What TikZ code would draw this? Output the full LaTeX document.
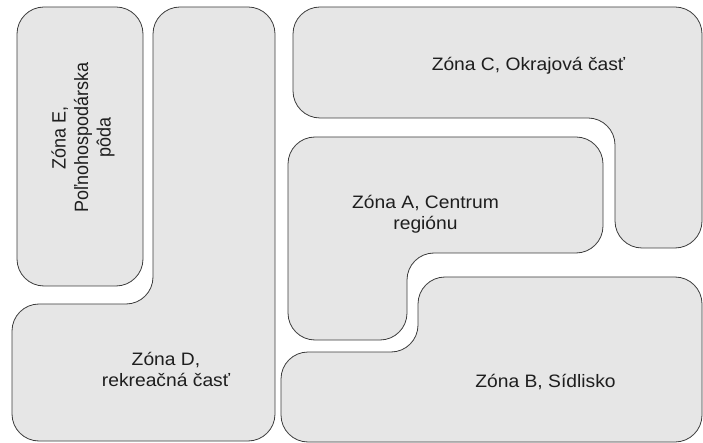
\documentclass[tikz,border=0pt]{standalone}
\usepackage{fontspec}
\setmainfont{Liberation Sans}
\definecolor{zonefill}{HTML}{E6E6E6}
\definecolor{zoneline}{HTML}{3C3C3C}
\definecolor{zoneink}{HTML}{1E1E1E}
\tikzset{
  zone/.style={draw=zoneline, fill=zonefill, line width=0.8bp, rounded corners=27bp},
  zonetext/.style={font=\fontsize{18bp}{21bp}\selectfont, text=zoneink, align=center, inner sep=0pt, xscale=1.07}
}
\begin{document}
\begin{tikzpicture}[x=1bp, y=-1bp]
  \useasboundingbox (0,0) rectangle (703,443);

  % Zone E: agricultural land (upper left)
  \draw[zone] (17,7) rectangle (143,286);
  % Zone D: recreational part (L-shape)
  \draw[zone] (153,7) -- (275,7) -- (275,441) -- (12,441) -- (12,304) -- (153,304) -- cycle;
  % Zone C: outer part (top, folding down on the right)
  \draw[zone] (293,7) -- (702,7) -- (702,248) -- (615,248) -- (615,118) -- (293,118) -- cycle;
  % Zone A: centre of the region
  \draw[zone] (288,137) -- (603,137) -- (603,253) -- (407,253) -- (407,340) -- (288,340) -- cycle;
  % Zone B: housing estate
  \draw[zone] (418,277) -- (702,277) -- (702,442) -- (281,442) -- (281,352) -- (418,352) -- cycle;

  % Zone labels
  \node[zonetext, anchor=base] (tC) at (528.5,71) {Zóna C, Okrajová časť};
  \node[zonetext] (tA) at (425.5,214) {Zóna A, Centrum\\regiónu};
  \node[zonetext, anchor=base] (tB) at (545.5,387) {Zóna B, Sídlisko};
  \node[zonetext] (tD) at (166,369) {Zóna D,\\rekreačná časť};
  \node[zonetext, rotate=90] (tE) at (83,137.5) {Zóna E,\\Poľnohospodárska\\pôda};
\end{tikzpicture}
\end{document}
